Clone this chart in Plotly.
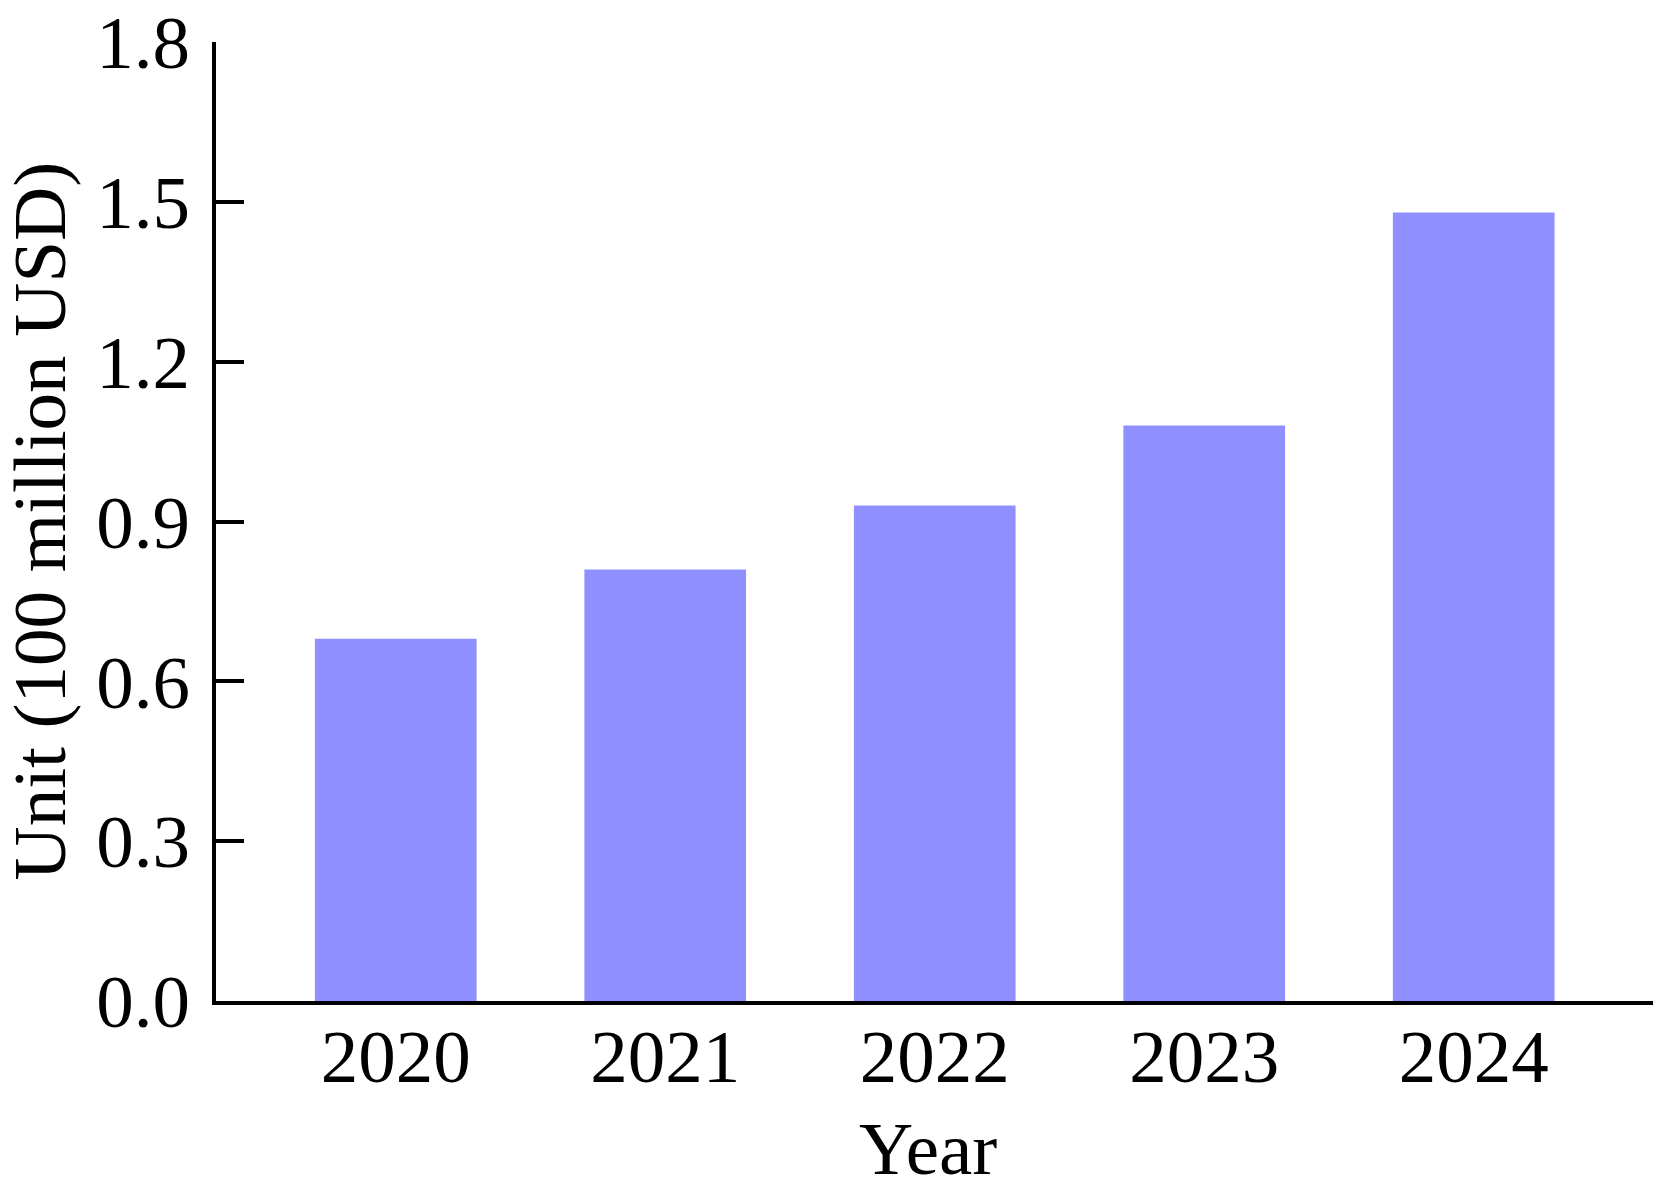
import plotly.graph_objects as go

years = ["2020", "2021", "2022", "2023", "2024"]
values = [0.68, 0.81, 0.93, 1.08, 1.48]
y_ticks = [0.0, 0.3, 0.6, 0.9, 1.2, 1.5, 1.8]

x_title = "Year"
y_title = "Unit (100 million USD)"

font_family = "Liberation Serif, Times New Roman, serif"

fig = go.Figure()

fig.add_trace(go.Bar(
    x=years,
    y=values,
    marker=dict(color="#8f8fff", line=dict(width=0)),
    width=0.6,
))

# page body has an 8px margin, so the figure is made that much smaller
fig.update_layout(
    width=1653,
    height=1188,
    plot_bgcolor="white",
    paper_bgcolor="white",
    showlegend=False,
    margin=dict(l=208, r=0, t=34, b=195),
    font=dict(family=font_family, size=75, color="black"),
    xaxis=dict(
        type="category",
        range=[-0.667, 4.695],
        showline=True,
        linecolor="black",
        linewidth=4,
        ticks="",
        showgrid=False,
        zeroline=False,
        tickfont=dict(size=75),
        ticklabelstandoff=-13,
        automargin=False,
    ),
    yaxis=dict(
        range=[0, 1.8],
        tickvals=y_ticks,
        tickformat=".1f",
        showline=True,
        linecolor="black",
        linewidth=4,
        ticks="inside",
        ticklen=28,
        tickwidth=4,
        tickcolor="black",
        showgrid=False,
        zeroline=False,
        tickfont=dict(size=75),
        ticklabelstandoff=7,
        ticklabeloverflow="allow",
        automargin=False,
    ),
)

# axis titles placed as annotations so their distance can be set exactly
fig.add_annotation(
    text=x_title, xref="paper", yref="paper", x=0.493, y=0,
    xanchor="center", yanchor="middle", yshift=-147,
    showarrow=False, font=dict(size=75),
)
fig.add_annotation(
    text=y_title, xref="paper", yref="paper", x=0, y=0.5,
    xanchor="center", yanchor="middle", xshift=-177, textangle=-90,
    showarrow=False, font=dict(size=75),
)

fig.write_html("out.html")
